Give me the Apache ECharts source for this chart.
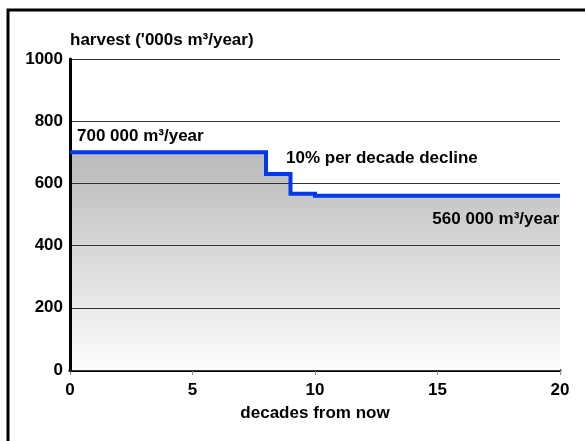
<!DOCTYPE html>
<html>
<head>
<meta charset="utf-8">
<script src="https://cdn.jsdelivr.net/npm/echarts@6/dist/echarts.min.js"></script>
<style>
  html, body { margin: 0; padding: 0; background: #fff; }
  #chart { width: 585px; height: 441px; }
</style>
</head>
<body>
<div id="chart"></div>
<script>
// Harvest schedule: decade at which each level begins, and the level in '000s m³/year
var decades = [0, 8, 9, 10, 20];
var harvest = [700, 630, 567, 560, 560];

var yTicks = [0, 200, 400, 600, 800, 1000];
var xTicks = [0, 5, 10, 15, 20];

var FONT = '"Liberation Sans", Arial, Helvetica, sans-serif';
var FS = 17;

var points = decades.map(function (d, i) { return [d, harvest[i]]; });

var chart = echarts.init(document.getElementById('chart'), null, { renderer: 'canvas' });

function note(text, x, y, align) {
  return {
    type: 'text',
    x: x, y: y,
    z: 100,
    style: {
      text: text,
      fill: '#000',
      font: 'bold ' + FS + 'px ' + FONT,
      align: align,
      verticalAlign: 'middle'
    }
  };
}

chart.setOption({
  animation: false,
  backgroundColor: '#ffffff',
  grid: { left: 70, right: 25, top: 59, bottom: 71, containLabel: false },
  xAxis: {
    type: 'value',
    min: xTicks[0],
    max: xTicks[xTicks.length - 1],
    interval: xTicks[1] - xTicks[0],
    name: 'decades from now',
    nameLocation: 'middle',
    nameGap: 35,
    nameTextStyle: { color: '#000', fontFamily: FONT, fontWeight: 'bold', fontSize: FS },
    axisLine: { show: true, onZero: false, lineStyle: { color: '#000', width: 3 } },
    axisTick: { show: true, length: 5, lineStyle: { color: '#888', width: 1 } },
    axisLabel: { color: '#000', fontFamily: FONT, fontWeight: 'bold', fontSize: FS, margin: 12,
      formatter: function (v) { return String(v); } },
    splitLine: { show: false }
  },
  yAxis: {
    type: 'value',
    min: yTicks[0],
    max: yTicks[yTicks.length - 1],
    interval: yTicks[1] - yTicks[0],
    z: 3,
    name: "harvest ('000s m³/year)",
    nameLocation: 'end',
    nameGap: 19,
    nameTextStyle: { color: '#000', fontFamily: FONT, fontWeight: 'bold', fontSize: FS, align: 'left', verticalAlign: 'middle' },
    axisLine: { show: true, lineStyle: { color: '#000', width: 3 } },
    axisTick: { show: false },
    axisLabel: { color: '#000', fontFamily: FONT, fontWeight: 'bold', fontSize: FS, margin: 7,
      formatter: function (v) { return String(v); } },
    splitLine: { show: true, lineStyle: { color: '#333', width: 1 } }
  },
  series: [
    {
      // shaded area beneath the harvest level
      type: 'line',
      step: 'end',
      data: points,
      symbol: 'none',
      z: 1,
      lineStyle: { width: 0, opacity: 0 },
      areaStyle: {
        opacity: 1,
        color: new echarts.graphic.LinearGradient(0, 0, 0, 1, [
          { offset: 0, color: '#b9b9b9' },
          { offset: 1, color: '#fdfdfd' }
        ])
      },
      silent: true
    },
    {
      // harvest level line
      type: 'line',
      step: 'end',
      data: points,
      symbol: 'none',
      z: 5,
      lineStyle: { color: '#0038f0', width: 4, cap: 'butt', join: 'miter' }
    }
  ],
  graphic: [
    {
      type: 'rect',
      shape: { x: 8, y: 10, width: 700, height: 600 },
      style: { fill: 'none', stroke: '#000', lineWidth: 3 },
      silent: true
    },
    note('700 000 m³/year', 77, 136, 'left'),
    note('10% per decade decline', 286, 158, 'left'),
    note('560 000 m³/year', 559, 219, 'right')
  ]
});
</script>
</body>
</html>
